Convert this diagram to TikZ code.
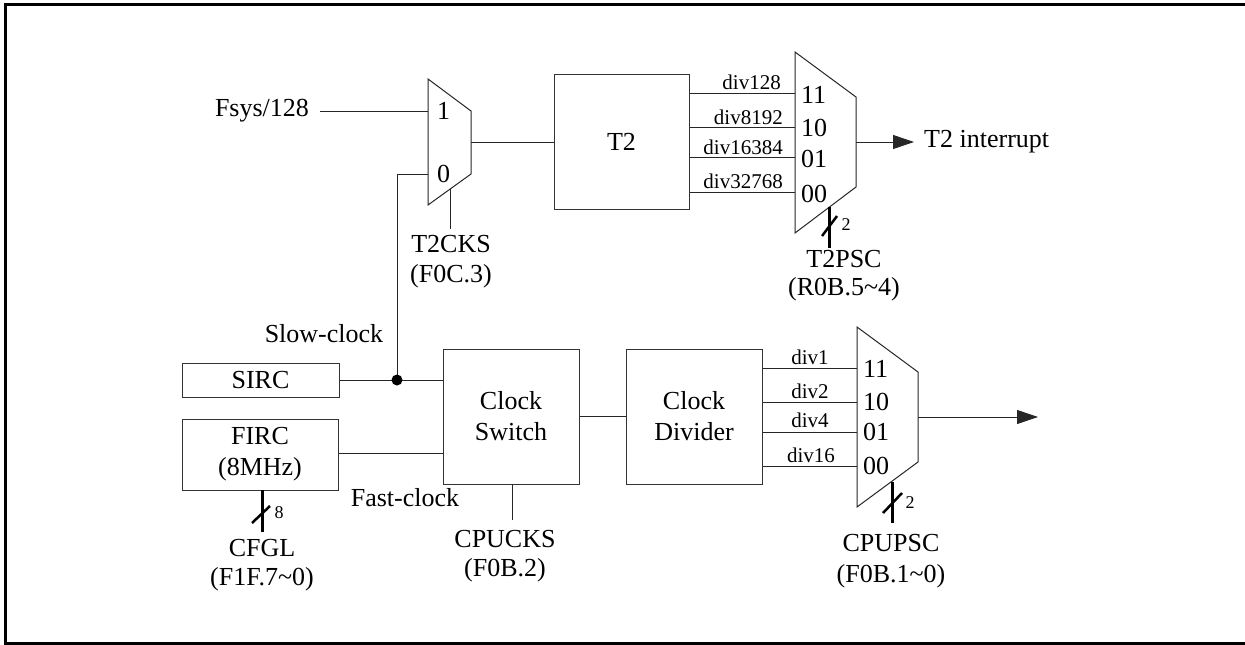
\documentclass[tikz,border=0pt]{standalone}
\usepackage{fontspec}
\setmainfont{Liberation Serif}
\usetikzlibrary{arrows.meta}
\begin{document}
\begin{tikzpicture}[x=1pt,y=-1pt,
  wire/.style={line width=0.9pt,draw=black!85},
  boxst/.style={draw=black!80,line width=1pt,inner sep=0pt,font=\fontsize{26}{31}\selectfont,align=center},
  muxst/.style={draw=black!85,line width=1pt},
  bus/.style={line width=3pt,draw=black},
  lbl/.style={inner sep=0pt,font=\fontsize{26}{31}\selectfont,align=center},
  slbl/.style={inner sep=0pt,font=\fontsize{21}{24}\selectfont},
  tlbl/.style={inner sep=0pt,font=\fontsize{18}{20}\selectfont},
  arr/.style={-{Triangle[length=21pt,width=14pt]}}
]
\useasboundingbox (0,0) rectangle (1245,645);
% frame
\draw[line width=3pt] (1260,4) -- (5,4) -- (5,643) -- (1260,643);

% ---------- T2CKS mux ----------
\coordinate (m1a) at (428,79);
\coordinate (m1b) at (471,111);
\coordinate (m1c) at (471,174);
\coordinate (m1d) at (428,205);
\draw[muxst] (m1a) -- (m1b) -- (m1c) -- (m1d) -- cycle;
\coordinate (m1i1) at (428,111);
\coordinate (m1i0) at (428,174);
\coordinate (m1o) at (471,142);
\coordinate (m1s) at (450,189);
\coordinate (m1se) at (450,229);
\node[lbl,anchor=west] (m1l1) at (437,111) {1};
\node[lbl,anchor=west] (m1l0) at (437,174) {0};
\node[lbl] (fsys) at (262,111) {Fsys/128};
\coordinate (fsysend) at (320,111);
\draw[wire] (fsysend) -- (m1i1);
\node[lbl] (t2cks) at (451,244) {T2CKS};
\node[lbl] (f0c3) at (451,276) {(F0C.3)};
\draw[wire] (m1s) -- (m1se);

% ---------- T2 ----------
\node[boxst,minimum width=135pt,minimum height=135pt] (t2) at (621.5,141.5) {T2};
\draw[wire] (m1o) -- (m1o -| t2.west);

% ---------- T2PSC mux ----------
\coordinate (m2a) at (795,52);
\coordinate (m2b) at (856,97);
\coordinate (m2c) at (856,187);
\coordinate (m2d) at (795,233);
\draw[muxst] (m2a) -- (m2b) -- (m2c) -- (m2d) -- cycle;
\coordinate (m2i3) at (795,93);
\coordinate (m2i2) at (795,127);
\coordinate (m2i1) at (795,157);
\coordinate (m2i0) at (795,192);
\coordinate (m2o) at (856,142);
\coordinate (m2end) at (914,142);
\node[lbl,anchor=west] (m2l3) at (801,95) {11};
\node[lbl,anchor=west] (m2l2) at (801,128) {10};
\node[lbl,anchor=west] (m2l1) at (801,159) {01};
\node[lbl,anchor=west] (m2l0) at (801,194) {00};
\foreach \p in {m2i3,m2i2,m2i1,m2i0}{\draw[wire] (t2.east |- \p) -- (\p);}
\node[slbl,anchor=east] (d128) at (781,82) {div128};
\node[slbl,anchor=east] (d8192) at (783,117) {div8192};
\node[slbl,anchor=east] (d16384) at (783,147) {div16384};
\node[slbl,anchor=east] (d32768) at (783,181) {div32768};
\node[lbl,anchor=west] (t2int) at (924,142) {T2 interrupt};
\draw[wire,arr] (m2o) -- (m2end);
\coordinate (m2s) at (829,207);
\coordinate (m2e) at (829,248);
\draw[bus] (m2s) -- (m2e);
\coordinate (m2x1) at (822,236);
\coordinate (m2x2) at (837,216);
\draw[line width=2.5pt] (m2x1) -- (m2x2);
\node[tlbl] (m2n) at (846,225) {2};
\node[lbl] (t2psc) at (844,259) {T2PSC};
\node[lbl] (r0b) at (844,289) {(R0B.5\char`~4)};

% ---------- clock sources ----------
\node[boxst,minimum width=157pt,minimum height=34pt] (sirc) at (260.5,380) {SIRC};
\node[boxst,minimum width=156pt,minimum height=71pt] (firc) at (260,454.5) {FIRC\\(8MHz)};
\node[boxst,minimum width=136pt,minimum height=135pt] (cs) at (511,416.5) {Clock\\Switch};
\node[boxst,minimum width=136pt,minimum height=135pt] (cd) at (694,416.5) {Clock\\Divider};
\coordinate (jn) at (397,380);
\coordinate (jtop) at (397,174);
\draw[wire] (m1i0) -- (jtop) -- (jn);
\draw[wire] (sirc.east) -- (sirc.east -| cs.west);
\fill (jn) circle (5.5pt);
\draw[wire] (firc.east |- 0,453) -- (cs.west |- 0,453);
\node[lbl] (slow) at (324,334) {Slow-clock};
\node[lbl] (fast) at (405,498) {Fast-clock};
% CFGL bus
\coordinate (cfs) at (262,490);
\coordinate (cfe) at (262,532);
\draw[bus] (cfs) -- (cfe);
\coordinate (cfx1) at (252,523);
\coordinate (cfx2) at (270,506);
\draw[line width=2.5pt] (cfx1) -- (cfx2);
\node[tlbl] (cfn) at (279,513) {8};
\node[lbl] (cfgl) at (262,548) {CFGL};
\node[lbl] (f1f) at (262,579) {(F1F.7\char`~0)};
% CPUCKS
\node[lbl] (cpucks) at (505,539) {CPUCKS};
\node[lbl] (f0b2) at (505,570) {(F0B.2)};
\coordinate (cssel) at (512,484);
\coordinate (csselend) at (512,520);
\draw[wire] (cssel) -- (csselend);
\draw[wire] (cs.east) -- (cd.west);

% ---------- CPUPSC mux ----------
\coordinate (m3a) at (857,327);
\coordinate (m3b) at (918,372);
\coordinate (m3c) at (918,462);
\coordinate (m3d) at (857,507);
\draw[muxst] (m3a) -- (m3b) -- (m3c) -- (m3d) -- cycle;
\coordinate (m3i3) at (857,368);
\coordinate (m3i2) at (857,402);
\coordinate (m3i1) at (857,432);
\coordinate (m3i0) at (857,466);
\coordinate (m3o) at (918,417);
\coordinate (m3end) at (1038,417);
\node[lbl,anchor=west] (m3l3) at (863,369) {11};
\node[lbl,anchor=west] (m3l2) at (863,402) {10};
\node[lbl,anchor=west] (m3l1) at (863,432) {01};
\node[lbl,anchor=west] (m3l0) at (863,466) {00};
\foreach \p in {m3i3,m3i2,m3i1,m3i0}{\draw[wire] (cd.east |- \p) -- (\p);}
\node[slbl] (d1) at (810,357) {div1};
\node[slbl] (d2) at (810,391) {div2};
\node[slbl] (d4) at (810,420) {div4};
\node[slbl] (d16) at (811,455) {div16};
\draw[wire,arr] (m3o) -- (m3end);
\coordinate (m3s) at (892,482);
\coordinate (m3e) at (892,523);
\draw[bus] (m3s) -- (m3e);
\coordinate (m3x1) at (883,513);
\coordinate (m3x2) at (902,493);
\draw[line width=2.5pt] (m3x1) -- (m3x2);
\node[tlbl] (m3n) at (910,503) {2};
\node[lbl] (cpupsc) at (891,543) {CPUPSC};
\node[lbl] (f0b1) at (891,576) {(F0B.1\char`~0)};
\end{tikzpicture}
\end{document}
